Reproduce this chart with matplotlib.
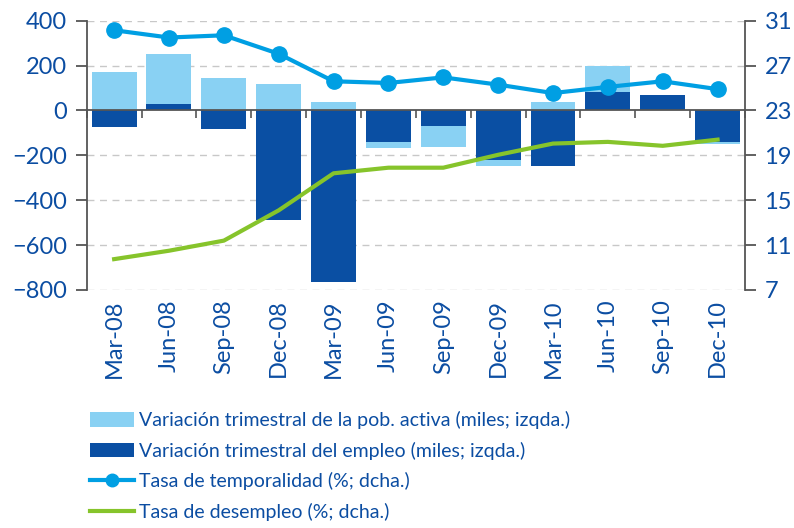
import matplotlib
matplotlib.use("Agg")
import matplotlib.pyplot as plt
from matplotlib.patches import Patch
from matplotlib.lines import Line2D
import numpy as np

categories = ["Mar-08", "Jun-08", "Sep-08", "Dec-08", "Mar-09", "Jun-09",
              "Sep-09", "Dec-09", "Mar-10", "Jun-10", "Sep-10", "Dec-10"]
pob_activa = [170, 250, 144, 116, 37, -167, -163, -247, 37, 196, 66, -151]
empleo = [-74, 27, -83, -489, -763, -142, -71, -222, -247, 81, 71, -141]
temporalidad = [30.15, 29.5, 29.7, 28.05, 25.6, 25.45, 25.95, 25.3, 24.55, 25.1, 25.6, 24.9]
desempleo = [9.75, 10.5, 11.4, 14.1, 17.4, 17.9, 17.9, 19.05, 20.05, 20.2, 19.85, 20.4]

left_ticks = [400, 200, 0, -200, -400, -600, -800]
right_ticks = [31, 27, 23, 19, 15, 11, 7]

legend_labels = ["Variación trimestral de la pob. activa (miles; izqda.)",
                 "Variación trimestral del empleo (miles; izqda.)",
                 "Tasa de temporalidad (%; dcha.)",
                 "Tasa de desempleo (%; dcha.)"]

C_LIGHT = "#89D1F3"
C_DARK = "#0A4FA3"
C_TEMP = "#009FE3"
C_GREEN = "#86C42B"
C_TEXT = "#0B4DA2"
C_SPINE = "#555555"

plt.rcParams["font.family"] = ["Lato", "DejaVu Sans"]

fig = plt.figure(figsize=(7.94, 5.28), dpi=100)
ax = fig.add_axes([86.7 / 794, 1 - 290 / 528, (745 - 86.7) / 794, (290 - 20.7) / 528])
ax2 = ax.twinx()

x = np.arange(len(categories))
w = 0.82
ax.bar(x, pob_activa, width=w, color=C_LIGHT, zorder=2)
ax.bar(x, empleo, width=w, color=C_DARK, zorder=3)

ax.set_xlim(-0.5, len(categories) - 0.5)
ax.set_ylim(-800, 400)
ax.set_yticks(left_ticks)
for t in left_ticks:
    if t != 0:
        ax.axhline(t, color="#C8C8C8", lw=1.0, ls=(0, (5, 4)), zorder=1)
ax.axhline(0, color=C_SPINE, lw=1.3, zorder=4)

ax2.plot(x, temporalidad, color=C_TEMP, lw=3, marker="o", ms=11, zorder=5)
ax2.plot(x, desempleo, color=C_GREEN, lw=3, zorder=5)
ax2.set_ylim(7, 31)
ax2.set_yticks(right_ticks)

# spines
for a in (ax, ax2):
    a.spines["top"].set_visible(False)
    a.spines["bottom"].set_visible(False)
ax.spines["right"].set_visible(False)
ax.spines["left"].set_color(C_SPINE)
ax.spines["left"].set_linewidth(1.3)
ax2.spines["left"].set_visible(False)
ax2.spines["right"].set_color(C_SPINE)
ax2.spines["right"].set_linewidth(1.3)

fs = 17
ax.tick_params(axis="y", colors=C_SPINE, labelcolor=C_TEXT, labelsize=fs, length=8, width=1.3, pad=6)
ax2.tick_params(axis="y", colors=C_SPINE, labelcolor=C_TEXT, labelsize=fs, length=8, width=1.3, pad=6)

# x axis: boundary ticks on zero line, labels at bottom
ax.spines["bottom"].set_position(("data", 0))
ax.set_xticks(x)
ax.set_xticklabels(categories, rotation=90, color=C_TEXT, fontsize=fs, va="top")
ax.set_xticks(np.arange(-0.5, len(categories), 1.0), minor=True)
ax.tick_params(axis="x", which="major", length=0, pad=136)
ax.tick_params(axis="x", which="minor", length=6, width=1.2, color=C_SPINE, direction="out")

lfs = 14
handles = [Patch(facecolor=C_LIGHT, edgecolor="none"),
           Patch(facecolor=C_DARK, edgecolor="none"),
           Line2D([], [], color=C_TEMP, lw=3, marker="o", ms=9),
           Line2D([], [], color=C_GREEN, lw=3)]
leg = fig.legend(handles, legend_labels, loc="upper left",
                 bbox_to_anchor=(90 / 794, 1 - 411 / 528), frameon=False,
                 fontsize=lfs, handlelength=2.26, handleheight=0.77,
                 handletextpad=0.26, labelspacing=0.64, borderpad=0, borderaxespad=0)
for t in leg.get_texts():
    t.set_color(C_TEXT)

fig.savefig("out.png", dpi=100)
